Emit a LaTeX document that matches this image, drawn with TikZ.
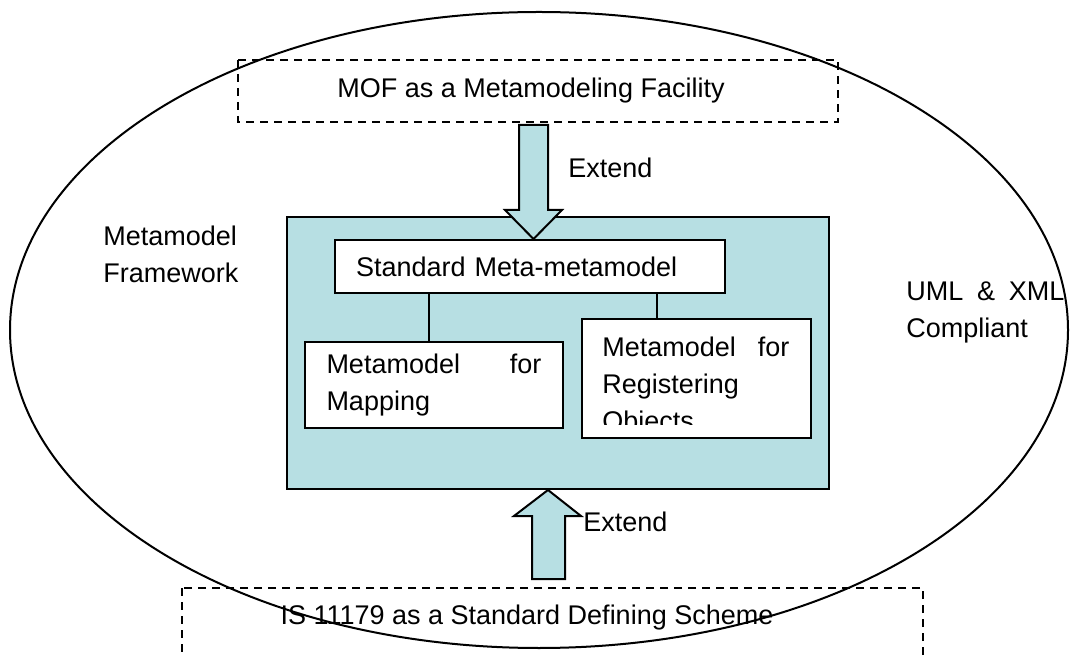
\documentclass[tikz,border=0pt]{standalone}
\usepackage{fontspec}
\setmainfont{Liberation Sans}
\definecolor{teal1}{RGB}{183,223,227}
\begin{document}
\begin{tikzpicture}[x=0.5pt,y=-0.5pt,
  every node/.style={font=\fontsize{13.5}{18.5}\selectfont, inner sep=0pt},
  solidbox/.style={draw, line width=1pt, fill=white},
  dashbox/.style={draw, line width=0.8pt, dash pattern=on 4pt off 3pt},
  blockarrow/.style={draw, line width=1pt, fill=teal1, line join=miter},
  lbl/.style={anchor=west, align=left}]
\clip (0,0) rectangle (1076,657);
% outer ellipse
\draw[line width=1pt] (539,330) ellipse [x radius=529, y radius=318];
% dashed boxes
\draw[dashbox] (238,60) rectangle (838,122);
\node (mof) at (531,91) {MOF as a Metamodeling Facility};
\draw[dashbox] (182,588) rectangle (923,720);
\node (is) at (527,618) {IS 11179 as a Standard Defining Scheme};
% frame
\node[draw, line width=1pt, fill=teal1, anchor=north west, minimum width=271pt, minimum height=136pt] (frame) at (286,216) {};
% inner boxes
\node[solidbox, anchor=north west, minimum width=195pt, minimum height=26.5pt, text width=174pt, inner xsep=10.5pt, align=left] (std) at (334,239) {Standard Meta-metamodel};
\node[solidbox, anchor=north west, minimum width=129pt, minimum height=43pt, text width=107.5pt, inner xsep=10.75pt, align=left] (map) at (304,341) {Metamodel\hfill for\\Mapping};
\node[solidbox, anchor=north west, minimum width=114.5pt, minimum height=59.5pt] (reg) at (581,318) {};
\begin{scope}
\clip (581,318) rectangle (810,425);
\node[anchor=north west, text width=93.5pt, align=justify] (regtext) at (602,337) {Metamodel\hfill for\\Registering\\Objects};
\end{scope}
% connectors
\coordinate (c1) at (429,0);
\coordinate (c2) at (657,0);
\draw[line width=0.8pt] (std.south -| c1) -- (map.north -| c1);
\draw[line width=0.8pt] (std.south -| c2) -- (reg.north -| c2);
% block arrows
\draw[blockarrow] (519,125) -- (548,125) -- (548,210) -- (562,210) -- (std.north -| 533.5,0) -- (505,210) -- (519,210) -- cycle;
\draw[blockarrow] (532,579) -- (532,516) -- (514,516) -- (frame.south -| 548,0) -- (581,516) -- (565,516) -- (565,579) -- cycle;
% labels
\node[lbl] (ext1) at (568,168) {Extend};
\node[lbl] (ext2) at (583,522) {Extend};
\node[lbl] (mf) at (103,254) {Metamodel\\Framework};
\node[anchor=west, text width=79pt, align=justify] (uml) at (906,312) {UML\hfill \&\hfill XML\\Compliant};
\end{tikzpicture}
\end{document}
